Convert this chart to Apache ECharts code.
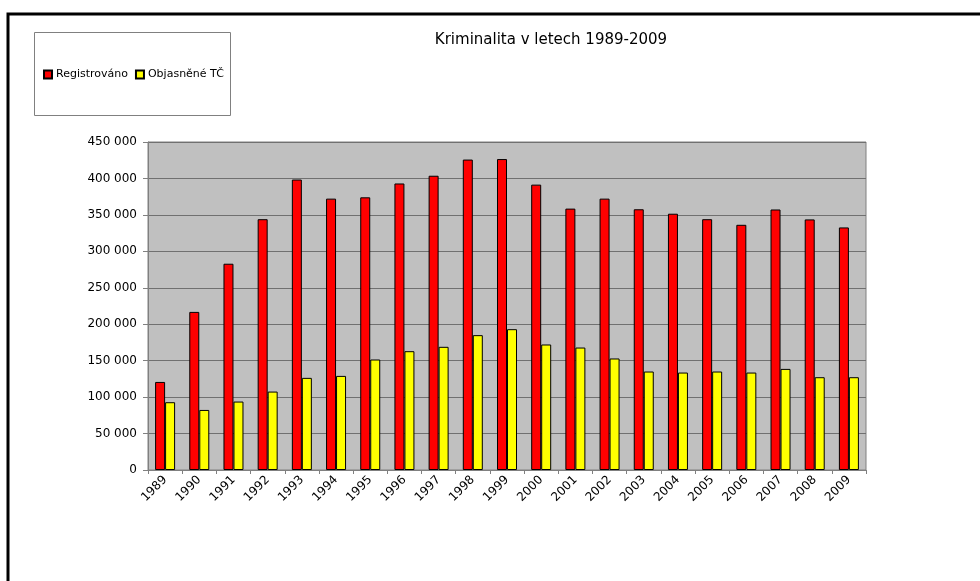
<!DOCTYPE html>
<html>
<head>
<meta charset="utf-8">
<script src="https://cdn.jsdelivr.net/npm/echarts@6/dist/echarts.min.js"></script>
<style>
  html, body { margin: 0; padding: 0; background: #fff; }
  #chart { width: 980px; height: 581px; }
</style>
</head>
<body>
<div id="chart"></div>
<script>
const years = ['1989', '1990', '1991', '1992', '1993', '1994', '1995', '1996', '1997', '1998', '1999',
  '2000', '2001', '2002', '2003', '2004', '2005', '2006', '2007', '2008', '2009'];
const registered = [120800, 216900, 283000, 344100, 398500, 372300, 374100, 393100, 403700, 425900, 426600,
  391500, 358600, 372300, 357700, 351600, 344100, 336400, 357400, 343800, 332800];
const solved = [93000, 82400, 93900, 107600, 126400, 129100, 151600, 163000, 169000, 185000, 193200,
  172200, 168000, 153000, 135100, 133700, 135100, 133700, 138700, 127300, 127300];
const yTicks = [0, 50000, 100000, 150000, 200000, 250000, 300000, 350000, 400000, 450000];

const fmt = v => String(v).replace(/\B(?=(\d{3})+(?!\d))/g, ' ');

const chart = echarts.init(document.getElementById('chart'));
chart.setOption({
  backgroundColor: '#fff',
  animation: false,
  textStyle: { fontFamily: 'DejaVu Sans, sans-serif' },
  title: {
    text: 'Kriminalita v letech 1989-2009',
    left: 546,
    textAlign: 'center',
    top: 28,
    textStyle: { fontSize: 15, fontWeight: 'normal', color: '#000', fontFamily: 'DejaVu Sans' },
  },
  graphic: [
    {
      type: 'rect',
      shape: { x: 8, y: 14, width: 990, height: 600 },
      style: { fill: 'none', stroke: '#000', lineWidth: 3 },
    },
    {
      type: 'rect',
      shape: { x: 34.5, y: 32.5, width: 196, height: 83 },
      style: { fill: 'none', stroke: '#808080', lineWidth: 1 },
    },
  ],
  legend: {
    left: 38,
    top: 64,
    itemWidth: 8,
    itemHeight: 8,
    itemGap: 7,
    icon: 'rect',
    textStyle: { fontSize: 11, color: '#000', padding: [0, 0, 0, -1] },
    data: ['Registrováno', 'Objasněné TČ'],
  },
  grid: {
    left: 148,
    top: 142,
    right: 114,
    bottom: 111,
    show: true,
    backgroundColor: '#C0C0C0',
    borderColor: '#808080',
    borderWidth: 1,
  },
  xAxis: {
    type: 'category',
    data: years,
    axisLine: { lineStyle: { color: '#808080' } },
    axisTick: { show: true, length: 4, lineStyle: { color: '#808080' } },
    axisLabel: { rotate: 45, fontSize: 12, color: '#000', margin: 8 },
  },
  yAxis: {
    type: 'value',
    min: 0,
    max: 450000,
    interval: 50000,
    axisLine: { show: true, lineStyle: { color: '#808080' } },
    axisTick: { show: true, length: 5, lineStyle: { color: '#808080' } },
    splitLine: { lineStyle: { color: '#707070', width: 1 } },
    axisLabel: { fontSize: 12, color: '#000', margin: 11, formatter: v => yTicks.includes(v) ? fmt(v) : '' },
  },
  series: [
    {
      name: 'Registrováno',
      type: 'bar',
      data: registered,
      barWidth: 10,
      barGap: '0%',
      itemStyle: { color: '#FF0000', borderColor: '#000', borderWidth: 1 },
    },
    {
      name: 'Objasněné TČ',
      type: 'bar',
      data: solved,
      barWidth: 10,
      itemStyle: { color: '#FFFF00', borderColor: '#000', borderWidth: 1 },
    },
  ],
});
</script>
</body>
</html>
